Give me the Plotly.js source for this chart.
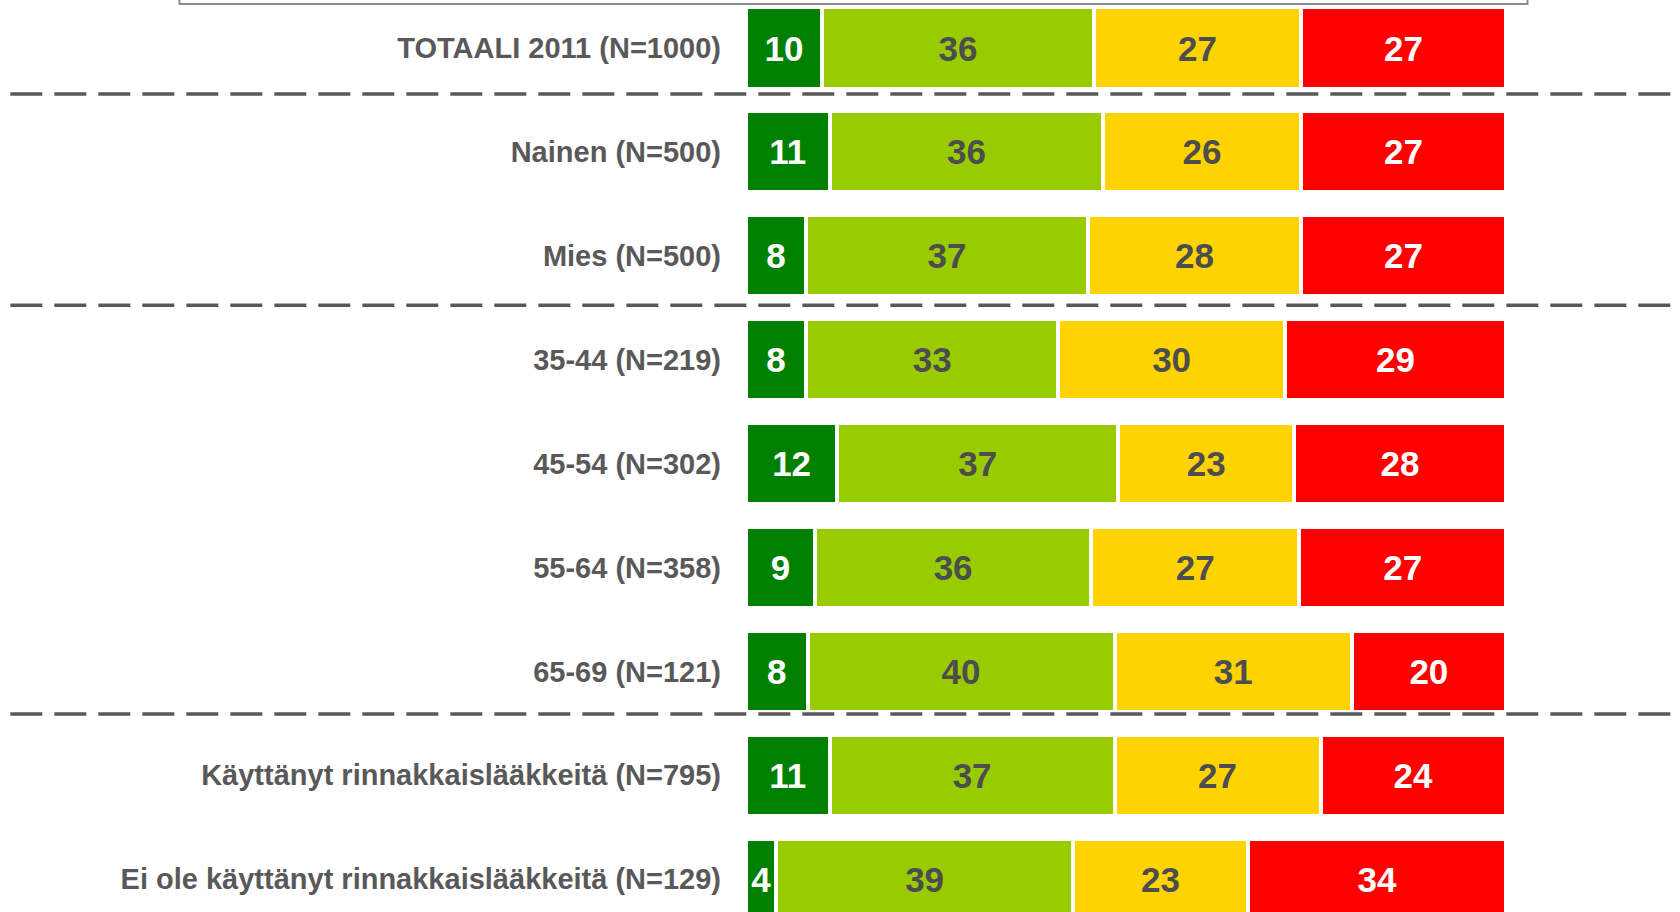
<!DOCTYPE html>
<html>
<head>
<meta charset="utf-8">
<script src="https://cdn.plot.ly/plotly-3.0.1.min.js"></script>
<style>html,body{margin:0;padding:0;background:#fff;}#chart{width:1680px;height:912px;}</style>
</head>
<body>
<div id="chart"></div>
<script>
// Categories (top to bottom)
const categories = [
  "TOTAALI 2011 (N=1000)",
  "Nainen (N=500)",
  "Mies (N=500)",
  "35-44 (N=219)",
  "45-54 (N=302)",
  "55-64 (N=358)",
  "65-69 (N=121)",
  "Käyttänyt rinnakkaislääkkeitä (N=795)",
  "Ei ole käyttänyt rinnakkaislääkkeitä (N=129)"
];

// Segment values (percent)
const darkGreenValues  = [10.0, 11.0, 7.9, 7.9, 12.0, 9.1, 8.1, 11.0, 4.0];
const lightGreenValues = [35.8, 36.0, 37.1, 33.2, 37.0, 36.3, 40.4, 37.5, 39.0];
const yellowValues     = [27.2, 26.0, 28.0, 29.8, 23.1, 27.4, 31.2, 27.1, 23.1];
const redValues        = [27.0, 27.0, 27.0, 29.1, 27.9, 27.2, 20.3, 24.4, 33.9];

// Printed labels
const darkGreenLabels  = [10, 11, 8, 8, 12, 9, 8, 11, 4];
const lightGreenLabels = [36, 36, 37, 33, 37, 36, 40, 37, 39];
const yellowLabels     = [27, 26, 28, 30, 23, 27, 31, 27, 23];
const redLabels        = [27, 27, 27, 29, 28, 27, 20, 24, 34];

// Group separator positions (between category indices)
const separators = [0.443, 2.476, 6.41];

function seg(values, labels, color, textColor) {
  return {
    type: 'bar',
    orientation: 'h',
    y: categories,
    x: values,
    text: labels.map(String),
    textposition: 'inside',
    insidetextanchor: 'middle',
    constraintext: 'none',
    textfont: {family: 'Liberation Sans, Arial, sans-serif', size: 35, color: textColor, weight: 'bold'},
    marker: {color: color, line: {color: '#ffffff', width: 4}},
    hoverinfo: 'skip'
  };
}

const data = [
  seg(darkGreenValues, darkGreenLabels, '#008000', '#ffffff'),
  seg(lightGreenValues, lightGreenLabels, '#99CC00', '#4d4d4d'),
  seg(yellowValues, yellowLabels, '#FFD300', '#4d4d4d'),
  seg(redValues, redLabels, '#FF0000', '#ffffff')
];

const shapes = separators.map(s => ({
  type: 'line', xref: 'paper', yref: 'y',
  x0: -0.968, x1: 1.23, y0: s, y1: s,
  line: {color: '#595959', width: 3.5, dash: '32px,12px'}
}));
shapes.push({
  type: 'rect', xref: 'paper', yref: 'paper',
  x0: -0.7454, x1: 1.0283, y0: 0.9956, y1: 1.05,
  line: {color: '#8c8c8c', width: 2}, fillcolor: 'rgba(0,0,0,0)'
});

const layout = {
  width: 1680, height: 912,
  margin: {l: 746, r: 174, t: 0, b: 0, pad: 0},
  paper_bgcolor: '#ffffff', plot_bgcolor: '#ffffff',
  barmode: 'stack',
  bargap: 0.22,
  showlegend: false,
  font: {family: 'Liberation Sans, Arial, sans-serif'},
  xaxis: {range: [0, 100], visible: false, showgrid: false, zeroline: false, fixedrange: true},
  yaxis: {
    type: 'category',
    categoryorder: 'array', categoryarray: categories,
    range: [8.316, -0.462], autorange: false,
    showgrid: false, zeroline: false, showline: false, ticks: '',
    ticklabelstandoff: 24,
    tickfont: {family: 'Liberation Sans, Arial, sans-serif', size: 29, color: '#595959', weight: 'bold'},
    fixedrange: true
  },
  shapes: shapes
};

Plotly.newPlot('chart', data, layout, {displayModeBar: false, staticPlot: true});
</script>
</body>
</html>
